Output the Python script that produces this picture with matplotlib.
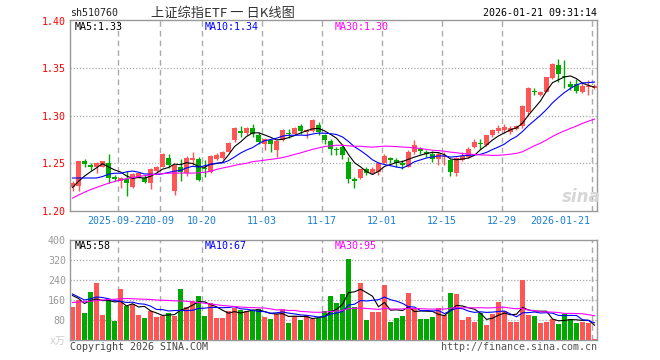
"""
上证综指ETF 日K线图（含成交量）
"""
import matplotlib.pyplot as plt
import numpy as np
import pandas as pd

plt.rcParams['font.family'] = ['DejaVu Sans Mono', 'Noto Sans CJK SC']

# K线数据（开 高 低 收）
opens = [1.2246, 1.2264, 1.2519, 1.2484, 1.2463, 1.2466, 1.2501, 1.2351, 1.2316, 1.2337,
         1.2246, 1.2350, 1.2344, 1.2295, 1.2421, 1.2466, 1.2561, 1.2204, 1.2466, 1.2396,
         1.2537, 1.2544, 1.2449, 1.2403, 1.2547, 1.2561, 1.2624, 1.2747, 1.2841, 1.2816,
         1.2872, 1.2795, 1.2708, 1.2743, 1.2645, 1.2743, 1.2816, 1.2813, 1.2893, 1.2830,
         1.2837, 1.2907, 1.2795, 1.2732, 1.2648, 1.2673, 1.2515, 1.2330, 1.2340, 1.2435,
         1.2393, 1.2410, 1.2505, 1.2561, 1.2540, 1.2505, 1.2463, 1.2620, 1.2648, 1.2620,
         1.2603, 1.2550, 1.2568, 1.2533, 1.2393, 1.2533, 1.2568, 1.2673, 1.2711, 1.2690,
         1.2802, 1.2837, 1.2848, 1.2830, 1.2858, 1.2890, 1.3040, 1.3262, 1.3220, 1.3255,
         1.3400, 1.3541, 1.3425, 1.3331, 1.3331, 1.3250, 1.3300, 1.3296]
highs = [1.2316, 1.2525, 1.2547, 1.2501, 1.2512, 1.2526, 1.2596, 1.2372, 1.2351, 1.2414,
         1.2396, 1.2400, 1.2372, 1.2452, 1.2470, 1.2606, 1.2596, 1.2484, 1.2544, 1.2575,
         1.2624, 1.2571, 1.2533, 1.2586, 1.2607, 1.2631, 1.2725, 1.2886, 1.2897, 1.2886,
         1.2918, 1.2830, 1.2771, 1.2760, 1.2743, 1.2858, 1.2858, 1.2883, 1.2918, 1.2865,
         1.2963, 1.2935, 1.2813, 1.2760, 1.2673, 1.2708, 1.2568, 1.2358, 1.2445, 1.2456,
         1.2463, 1.2515, 1.2596, 1.2568, 1.2561, 1.2533, 1.2638, 1.2743, 1.2673, 1.2638,
         1.2627, 1.2620, 1.2620, 1.2550, 1.2568, 1.2620, 1.2673, 1.2760, 1.2760, 1.2802,
         1.2858, 1.2907, 1.2918, 1.2893, 1.2907, 1.3110, 1.3300, 1.3290, 1.3262, 1.3415,
         1.3555, 1.3605, 1.3585, 1.3365, 1.3385, 1.3345, 1.3375, 1.3335]
lows = [1.2211, 1.2211, 1.2456, 1.2431, 1.2400, 1.2459, 1.2291, 1.2316, 1.2239, 1.2151,
        1.2239, 1.2340, 1.2295, 1.2229, 1.2410, 1.2462, 1.2449, 1.2169, 1.2316, 1.2361,
        1.2484, 1.2309, 1.2358, 1.2393, 1.2537, 1.2544, 1.2620, 1.2729, 1.2782, 1.2800,
        1.2778, 1.2708, 1.2638, 1.2620, 1.2568, 1.2732, 1.2767, 1.2802, 1.2813, 1.2767,
        1.2830, 1.2795, 1.2708, 1.2592, 1.2592, 1.2550, 1.2288, 1.2235, 1.2330, 1.2375,
        1.2382, 1.2375, 1.2498, 1.2498, 1.2463, 1.2435, 1.2456, 1.2603, 1.2596, 1.2568,
        1.2515, 1.2480, 1.2487, 1.2368, 1.2368, 1.2522, 1.2557, 1.2662, 1.2655, 1.2683,
        1.2778, 1.2820, 1.2820, 1.2813, 1.2848, 1.2876, 1.3000, 1.3215, 1.3205, 1.3250,
        1.3390, 1.3355, 1.3290, 1.3270, 1.3240, 1.3240, 1.3225, 1.3285]
closes = [1.2295, 1.2519, 1.2491, 1.2456, 1.2498, 1.2519, 1.2344, 1.2337, 1.2344, 1.2291,
          1.2386, 1.2395, 1.2305, 1.2438, 1.2456, 1.2596, 1.2484, 1.2484, 1.2407, 1.2561,
          1.2554, 1.2326, 1.2435, 1.2579, 1.2589, 1.2624, 1.2719, 1.2869, 1.2824, 1.2876,
          1.2813, 1.2725, 1.2760, 1.2701, 1.2732, 1.2848, 1.2809, 1.2872, 1.2837, 1.2848,
          1.2952, 1.2830, 1.2743, 1.2655, 1.2641, 1.2590, 1.2330, 1.2316, 1.2435, 1.2393,
          1.2435, 1.2498, 1.2575, 1.2533, 1.2505, 1.2480, 1.2620, 1.2690, 1.2631, 1.2596,
          1.2543, 1.2603, 1.2578, 1.2410, 1.2557, 1.2578, 1.2655, 1.2725, 1.2704, 1.2795,
          1.2848, 1.2872, 1.2883, 1.2872, 1.2893, 1.3100, 1.3293, 1.3255, 1.3250, 1.3408,
          1.3545, 1.3445, 1.3405, 1.3303, 1.3265, 1.3310, 1.3320, 1.3320]
# 成交量（万手）
volumes = [132, 160, 108, 192, 228, 100, 164, 77, 204, 136,
           144, 100, 88, 116, 92, 96, 108, 96, 204, 132,
           156, 176, 96, 148, 88, 88, 116, 128, 120, 116,
           116, 124, 92, 84, 104, 124, 68, 96, 80, 100,
           84, 88, 116, 176, 148, 184, 324, 132, 228, 80,
           112, 112, 220, 72, 88, 96, 188, 124, 84, 84,
           92, 128, 100, 188, 184, 80, 92, 72, 108, 60,
           104, 152, 116, 72, 72, 240, 100, 96, 68, 72,
           84, 64, 104, 84, 68, 72, 68, 4]

# 均线最前面几根（更早的数据不在图里，直接从图上读）
ma5_head = [1.2245, 1.2310, 1.2365, 1.2410]
ma10_head = [1.2345, 1.2345, 1.2345, 1.2345, 1.2345, 1.2360, 1.2385, 1.2395, 1.2395]
ma30_head = [1.2133, 1.2165, 1.2195, 1.2222, 1.2245, 1.2268, 1.2290, 1.2308, 1.2325, 1.2338,
             1.2350, 1.2360, 1.2370, 1.2378, 1.2385, 1.2392, 1.2395, 1.2397, 1.2397, 1.2397,
             1.2397, 1.2400, 1.2405, 1.2415, 1.2435, 1.2450, 1.2462, 1.2478, 1.2490]
vma5_head = [178, 166, 146, 158]
vma10_head = [184, 172, 160, 165, 172, 170, 165, 158, 155]
vma30_head = [150, 152, 153, 155, 158, 160, 162, 163, 165, 166,
              165, 164, 163, 162, 160, 159, 158, 157, 156, 155,
              152, 150, 147, 144, 141, 138, 136, 134, 132]

date_idx = [8, 15, 22, 32, 42, 52, 62, 72, 87]
date_labels = ['2025-09-22', '10-09', '10-20', '11-03', '11-17', '12-01', '12-15', '12-29', '2026-01-21']
price_ticks = [1.20, 1.25, 1.30, 1.35, 1.40]
vol_ticks = [0, 80, 160, 240, 320, 400]

RED = '#ff5555'
GREEN = '#00a800'
GRID = '#aaaaaa'
W, H = 660, 360


def ma_line(values, n, head):
    s = pd.Series(values, dtype=float).rolling(n).mean().values
    s[:n - 1] = head
    return s


def fx(px):
    return px / W


def fy(py):
    return 1 - py / H


o = np.array(opens)
c = np.array(closes)
x = np.arange(len(o))
up = c >= o
colors = np.where(up, RED, GREEN)
grid_x = np.array(date_idx) - 0.417
xlim = (-0.417, 87.417)

fig = plt.figure(figsize=(6.6, 3.6), dpi=100)
ax = fig.add_axes([fx(70), fy(211), fx(527), 191 / H])
ax2 = fig.add_axes([fx(70), fy(340), fx(527), 100 / H])

# K线
ax.vlines(x, lows, highs, colors=colors, lw=1, zorder=2)
body = np.maximum(np.abs(c - o), 0.0011)
ax.bar(x, body, bottom=np.minimum(o, c), width=0.8, color=colors, zorder=2)
ax.plot(x, ma_line(closes, 5, ma5_head), color='black', lw=0.8, zorder=3)
ax.plot(x, ma_line(closes, 10, ma10_head), color='#0000ff', lw=0.8, zorder=3)
ax.plot(x, ma_line(closes, 30, ma30_head), color='#ff00ff', lw=0.8, zorder=3)

for g in grid_x:
    ax.axvline(g, color=GRID, lw=1, ls=(0, (4, 3)), zorder=1)
    ax2.axvline(g, color=GRID, lw=1, ls=(0, (4, 3)), zorder=1)
for p in price_ticks[1:-1]:
    ax.axhline(p, color=GRID, lw=0.9, ls=(0, (1, 1.5)), zorder=1)
for v in vol_ticks[1:-1]:
    ax2.axhline(v, color=GRID, lw=0.9, ls=(0, (1, 1.5)), zorder=1)

ax.set_xlim(*xlim)
ax.set_ylim(1.1997, 1.4011)
ax.set_yticks(price_ticks)
ax.set_yticklabels(['%.2f' % p for p in price_ticks], color='red', fontsize=7.2)
ax.set_xticks([])
ax.tick_params(length=0, pad=3)

# 日期标签，第一个稍往左挪，最后一个右对齐
xt = ax.get_xaxis_transform()
for i, (g, lab) in enumerate(zip(grid_x, date_labels)):
    ha, dx = 'center', 0
    if i == 0:
        ha, dx = 'right', 29.5 / 6
    if i == len(date_labels) - 1:
        ha, dx = 'right', -0.3
    ax.text(g + dx, -10 / 191, lab, transform=xt, ha=ha, va='center',
            color='#1a80d0', fontsize=7.2)

# 成交量
ax2.bar(x, volumes, width=0.8, color=colors, zorder=2)
ax2.plot(x, ma_line(volumes, 5, vma5_head), color='black', lw=0.8, zorder=3)
ax2.plot(x, ma_line(volumes, 10, vma10_head), color='#0000ff', lw=0.8, zorder=3)
ax2.plot(x, ma_line(volumes, 30, vma30_head), color='#ff00ff', lw=0.8, zorder=3)
ax2.set_xlim(*xlim)
ax2.set_ylim(0, 400)
ax2.set_xticks([])
ax2.set_yticks(vol_ticks)
ax2.set_yticklabels(['x万'] + [str(v) for v in vol_ticks[1:]], color='#999999', fontsize=7.2)
ax2.get_yticklabels()[0].set_color('#cccccc')
ax2.tick_params(length=0, pad=3)

for a in (ax, ax2):
    for s in a.spines.values():
        s.set_color('#999999')
        s.set_linewidth(1)

# 文字
fig.text(fx(70), fy(13), 'sh510760', fontsize=7.2, color='#222222', va='center')
fig.text(fx(223), fy(13), '上证综指ETF 一 日K线图', fontsize=9.5, color='#333333',
         va='center', ha='center', family=['Noto Sans CJK SC', 'DejaVu Sans'])
fig.text(fx(597), fy(13), '2026-01-21 09:31:14', fontsize=7.2, color='black', va='center', ha='right')
for txt, px, col in [('MA5:1.33', 75, 'black'), ('MA10:1.34', 205, '#0000ff'), ('MA30:1.30', 335, '#ff00ff')]:
    fig.text(fx(px), fy(27), txt, fontsize=7.2, color=col, va='center')
for txt, px, col in [('MA5:58', 75, 'black'), ('MA10:67', 205, '#0000ff'), ('MA30:95', 335, '#ff00ff')]:
    fig.text(fx(px), fy(246), txt, fontsize=7.2, color=col, va='center')
fig.text(fx(70), fy(347), 'Copyright 2026 SINA.COM', fontsize=7.2, color='#444444', va='center')
fig.text(fx(597), fy(347), 'http://finance.sina.com.cn', fontsize=7.2, color='#555555', va='center', ha='right')
fig.text(fx(581), fy(197), 'sina', fontsize=12, color='#d6d6d6', style='italic', weight='bold',
         va='center', ha='center', family='DejaVu Sans')

plt.savefig('out.png', dpi=100)
